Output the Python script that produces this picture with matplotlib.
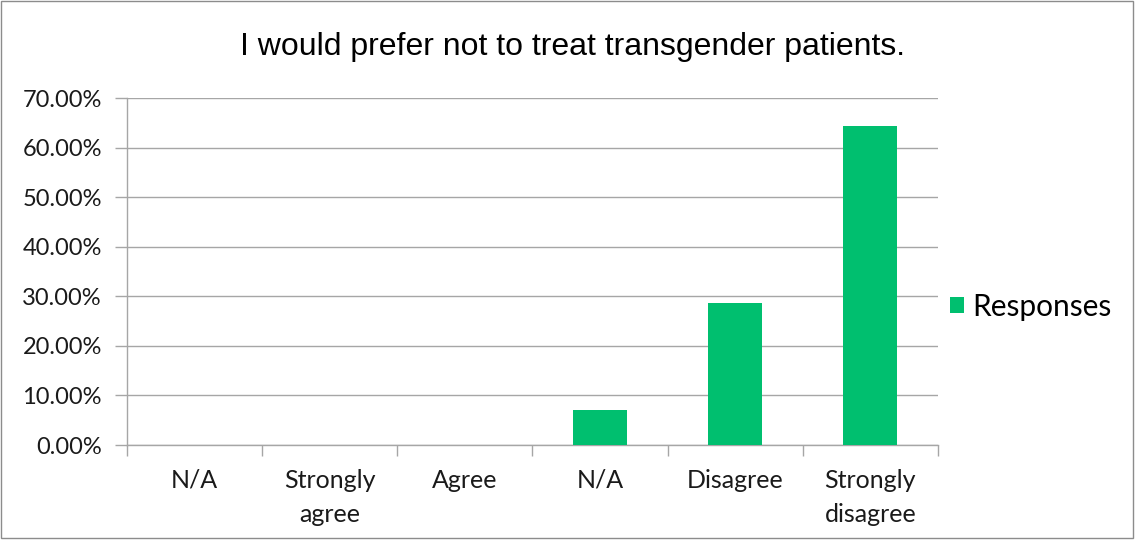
import matplotlib
matplotlib.use("Agg")
import matplotlib.pyplot as plt
from matplotlib.patches import Rectangle
from matplotlib.ticker import FixedLocator, FuncFormatter

categories = ["N/A", "Strongly\nagree", "Agree", "N/A", "Disagree", "Strongly\ndisagree"]
responses = [0.0, 0.0, 0.0, 7.14, 28.57, 64.29]
y_ticks = [0, 10, 20, 30, 40, 50, 60, 70]
title = "I would prefer not to treat transgender patients."
series_name = "Responses"

bar_color = "#00BF6F"
grid_color = "#A6A6A6"
text_color = "#1A1A1A"
label_font = ["Lato", "DejaVu Sans"]

fig = plt.figure(figsize=(11.35, 5.40), dpi=100)
ax = fig.add_axes([0.1119, 0.1759, 0.7145, 0.6426])

x = list(range(len(categories)))
ax.bar(x, responses, width=0.4, color=bar_color, zorder=3, label=series_name)

ax.set_xlim(-0.5, len(categories) - 0.5)
ax.set_ylim(0, 70)
ax.yaxis.set_major_locator(FixedLocator(y_ticks))
ax.yaxis.set_major_formatter(FuncFormatter(lambda v, _: f"{v:.2f}%"))
ax.grid(axis="y", color=grid_color, linewidth=1.0, zorder=0)

for side in ["top", "right"]:
    ax.spines[side].set_visible(False)
for side in ["left", "bottom"]:
    ax.spines[side].set_color(grid_color)
    ax.spines[side].set_linewidth(1.0)

ax.set_xticks(x)
ax.set_xticklabels(categories, fontsize=18, family=label_font, color=text_color,
                   linespacing=1.6, va="top")
ax.tick_params(axis="x", length=0, pad=17)
# category boundary tick marks below the axis
ax.set_xticks([i - 0.5 for i in range(len(categories) + 1)], minor=True)
ax.tick_params(axis="x", which="minor", length=8, color=grid_color, width=1.0)
ax.tick_params(axis="y", length=9, color=grid_color, width=1.0, pad=9,
               labelsize=17, labelcolor=text_color)
for lbl in ax.get_yticklabels():
    lbl.set_family(label_font)

fig.text(0.504, 0.913, title, ha="center", va="center", fontsize=23,
         family=["Liberation Sans", "DejaVu Sans"], color="#000000")

leg = ax.legend(loc="center left", bbox_to_anchor=(0.982, 0.398), frameon=False,
                handlelength=0.45, handleheight=0.45, handletextpad=0.3,
                prop={"family": label_font, "size": 21.5})

# outer chart border
fig.patches.append(Rectangle((0.001, 0.003), 0.997, 0.995, transform=fig.transFigure,
                             fill=False, edgecolor="#8C8C8C", linewidth=1.0))

fig.savefig("out.png", dpi=100)
